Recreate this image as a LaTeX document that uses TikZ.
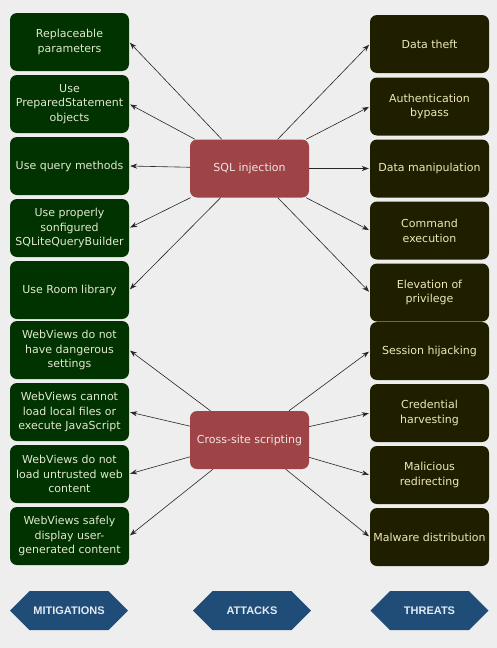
\documentclass[tikz,border=0pt]{standalone}
\usepackage{fontspec}
\setmainfont{DejaVu Sans}
\newfontfamily\banfont{Liberation Sans}
\usetikzlibrary{shapes.symbols,arrows.meta}
\definecolor{bg}{HTML}{EEEEEE}
\definecolor{mitfill}{HTML}{003300}
\definecolor{mittext}{HTML}{E2E8D0}
\definecolor{thrfill}{HTML}{1F1F00}
\definecolor{thrtext}{HTML}{EEE8B8}
\definecolor{attfill}{HTML}{9E4446}
\definecolor{atttext}{HTML}{F2E4E4}
\definecolor{banfill}{HTML}{1F4D78}
\definecolor{bantext}{HTML}{E4EAF2}
\tikzset{
  box/.style={rectangle, rounded corners=7pt, minimum width=119pt, minimum height=58pt,
    inner sep=1pt, align=center, font=\fontsize{11}{14.8}\selectfont},
  mit/.style={box, fill=mitfill, text=mittext},
  thr/.style={box, fill=thrfill, text=thrtext},
  att/.style={box, fill=attfill, text=atttext},
  ban/.style={signal, signal to=west and east, signal pointer angle=90, fill=banfill,
    text=bantext, minimum width=118pt, minimum height=39pt, inner sep=0pt,
    font=\banfont\bfseries\fontsize{11}{12}\selectfont},
  arr/.style={-{Stealth[length=7pt,width=5pt]}, draw=black!85, line width=0.6pt, shorten >=1pt}
}
\begin{document}
\begin{tikzpicture}[x=1pt,y=-1pt]
\fill[bg] (0,0) rectangle (497,648);
\useasboundingbox (0,0) rectangle (497,648);
% mitigations
\node[mit] (m1) at (69.5,42) {Replaceable\\parameters};
\node[mit] (m2) at (69.5,104) {Use\\PreparedStatement\\objects};
\node[mit] (m3) at (69.5,166) {Use query methods};
\node[mit] (m4) at (69.5,228) {Use properly\\sonfigured\\SQLiteQueryBuilder};
\node[mit] (m5) at (69.5,290) {Use Room library};
\node[mit] (m6) at (69.5,350) {WebViews do not\\have dangerous\\settings};
\node[mit] (m7) at (69.5,412) {WebViews cannot\\load local files or\\execute JavaScript};
\node[mit] (m8) at (69.5,474) {WebViews do not\\load untrusted web\\content};
\node[mit] (m9) at (69.5,536) {WebViews safely\\display user-\\generated content};
% threats
\node[thr] (t1) at (429.5,44) {Data theft};
\node[thr] (t2) at (429.5,106.5) {Authentication\\bypass};
\node[thr] (t3) at (429.5,168.5) {Data manipulation};
\node[thr] (t4) at (429.5,230.5) {Command\\execution};
\node[thr] (t5) at (429.5,292.5) {Elevation of\\privilege};
\node[thr] (t6) at (429.5,351) {Session hijacking};
\node[thr] (t7) at (429.5,413) {Credential\\harvesting};
\node[thr] (t8) at (429.5,475) {Malicious\\redirecting};
\node[thr] (t9) at (429.5,537) {Malware distribution};
% attacks
\node[att] (sql) at (249.5,168.5) {SQL injection};
\node[att] (xss) at (249.5,440) {Cross-site scripting};
% connectors
\foreach \i in {1,...,5} {
  \draw[arr] (sql) -- (m\i.east);
  \draw[arr] (sql) -- (t\i.west);
}
\foreach \i in {6,...,9} {
  \draw[arr] (xss) -- (m\i.east);
  \draw[arr] (xss) -- (t\i.west);
}
% banners
\node[ban] (bm) at (69,610.5) {MITIGATIONS};
\node[ban] (ba) at (252,610.5) {ATTACKS};
\node[ban] (bt) at (429.5,610.5) {THREATS};
\end{tikzpicture}
\end{document}
